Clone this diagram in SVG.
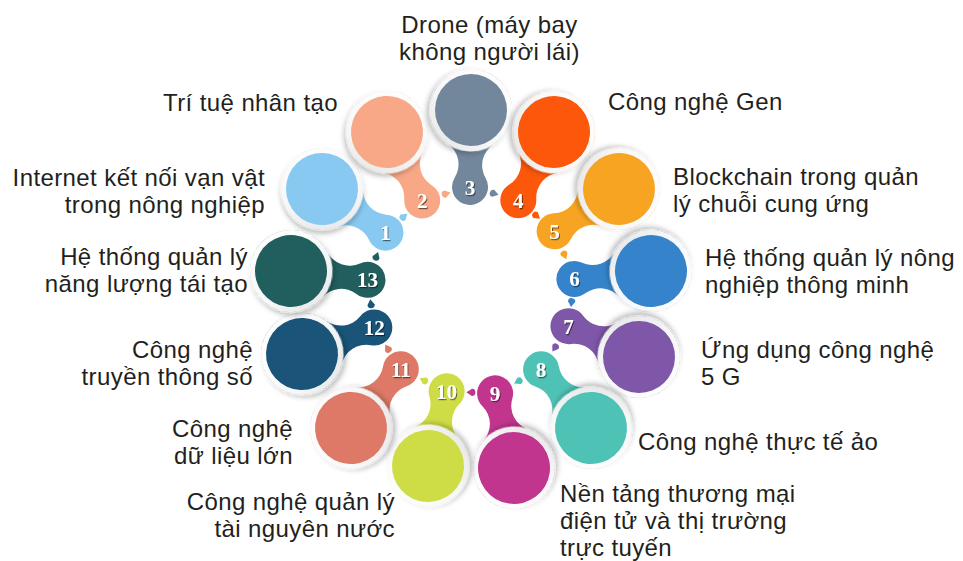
<svg xmlns="http://www.w3.org/2000/svg" xmlns:xlink="http://www.w3.org/1999/xlink" width="963" height="561" viewBox="0 0 963 561">
<style>
.lbl{font-family:"Liberation Sans","Arial",sans-serif;font-size:24px;letter-spacing:0.4px;fill:#231f20}
.e{text-anchor:end}
.m{text-anchor:middle}
.num{font-family:"Liberation Serif","DejaVu Serif",serif;font-weight:bold;font-size:21px;fill:#ffffff;text-anchor:middle;filter:url(#tsh)}
.ring{fill:url(#ringGrad);filter:url(#rsh)}
</style>
<defs>
<linearGradient id="ringGrad" x1="0" y1="0" x2="1" y2="1">
<stop offset="0" stop-color="#ffffff"/>
<stop offset="0.6" stop-color="#f7f7f7"/>
<stop offset="1" stop-color="#e2e2e2"/>
</linearGradient>
<filter id="rsh" x="-30%" y="-30%" width="160%" height="160%">
<feDropShadow dx="2" dy="3" stdDeviation="2.5" flood-color="#000" flood-opacity="0.25"/>
</filter>
<filter id="tsh" x="-30%" y="-30%" width="160%" height="160%">
<feDropShadow dx="1" dy="1.2" stdDeviation="0.6" flood-color="#000" flood-opacity="0.55"/>
</filter>
<path id="blob" d="M34.03,-22.87 A25,25 0 0 0 67.70,-15.41 A18,18 0 1 1 67.70,15.41 A25,25 0 0 0 34.03,22.87 A41,41 0 1 1 34.03,-22.87 Z"/>
<g id="unit">
<use xlink:href="#blob"/>
<circle r="41.5" class="ring"/>
<circle r="36"/>
</g>
<path id="arr" d="M4.5,0 L-1,-3.6 Q-4.5,-3.6 -4.5,0 Q-4.5,3.6 -1,3.6 Z"/>
</defs>

<g id="connectors">
<use xlink:href="#arr" fill="#88c9f1" transform="translate(403.9,216.6) rotate(-41.2)"/>
<use xlink:href="#arr" fill="#f8a886" transform="translate(446.2,193.8) rotate(-15.7)"/>
<use xlink:href="#arr" fill="#72879c" transform="translate(494.2,193.6) rotate(15.3)"/>
<use xlink:href="#arr" fill="#fc570a" transform="translate(536.5,215.8) rotate(40.6)"/>
<use xlink:href="#arr" fill="#f8a423" transform="translate(564.5,255.1) rotate(67.4)"/>
<use xlink:href="#arr" fill="#3584cb" transform="translate(571.5,302.6) rotate(97.1)"/>
<use xlink:href="#arr" fill="#7e57a9" transform="translate(554.8,347.8) rotate(122.4)"/>
<use xlink:href="#arr" fill="#4ec3b5" transform="translate(518.1,381.4) rotate(152.3)"/>
<use xlink:href="#arr" fill="#c2358f" transform="translate(470.9,392.4) rotate(182.5)"/>
<use xlink:href="#arr" fill="#cedc45" transform="translate(423.7,380.3) rotate(205.8)"/>
<use xlink:href="#arr" fill="#dd7966" transform="translate(387.6,348.4) rotate(237.6)"/>
<use xlink:href="#arr" fill="#1a5479" transform="translate(370.9,303.7) rotate(261.9)"/>
<use xlink:href="#arr" fill="#215e5e" transform="translate(376.5,256.3) rotate(290.8)"/>
</g>

<g id="node1">
<use xlink:href="#unit" fill="#88c9f1" transform="translate(322,189) rotate(34.5)"/>
<text class="num" x="385.5" y="240">1</text>
<text class="lbl e" x="265" y="186">Internet kết nối vạn vật<tspan x="265" dy="27">trong nông nghiệp</tspan></text>
</g>
<g id="node2">
<use xlink:href="#unit" fill="#f8a886" transform="translate(387,132) rotate(62.8)"/>
<text class="num" x="422.2" y="208">2</text>
<text class="lbl e" x="338" y="111">Trí tuệ nhân tạo</text>
</g>
<g id="node3">
<use xlink:href="#unit" fill="#72879c" transform="translate(471,110) rotate(90.7)"/>
<text class="num" x="470.1" y="194.5">3</text>
<text class="lbl m" x="489.5" y="33">Drone (máy bay<tspan x="489.5" dy="27">không người lái)</tspan></text>
</g>
<g id="node4">
<use xlink:href="#unit" fill="#fc570a" transform="translate(554,132) rotate(117.6)"/>
<text class="num" x="518.3" y="207.5">4</text>
<text class="lbl" x="608" y="110">Công nghệ Gen</text>
</g>
<g id="node5">
<use xlink:href="#unit" fill="#f8a423" transform="translate(619,189) rotate(146.7)"/>
<text class="num" x="554.6" y="238.5">5</text>
<text class="lbl" x="673" y="185">Blockchain trong quản<tspan x="673" dy="27">lý chuỗi cung ứng</tspan></text>
</g>
<g id="node6">
<use xlink:href="#unit" fill="#3584cb" transform="translate(651,271) rotate(174.1)"/>
<text class="num" x="574.4" y="286">6</text>
<text class="lbl" x="705" y="266">Hệ thống quản lý nông<tspan x="705" dy="27">nghiệp thông minh</tspan></text>
</g>
<g id="node7">
<use xlink:href="#unit" fill="#7e57a9" transform="translate(639,357) rotate(203.6)"/>
<text class="num" x="568.5" y="333.5">7</text>
<text class="lbl" x="701" y="358">Ứng dụng công nghệ<tspan x="701" dy="27">5 G</tspan></text>
</g>
<g id="node8">
<use xlink:href="#unit" fill="#4ec3b5" transform="translate(591,428) rotate(229.6)"/>
<text class="num" x="541.1" y="376.5">8</text>
<text class="lbl" x="638" y="450">Công nghệ thực tế ảo</text>
</g>
<g id="node9">
<use xlink:href="#unit" fill="#c2358f" transform="translate(514,468) rotate(255.8)"/>
<text class="num" x="495.1" y="400.5">9</text>
<text class="lbl" x="560" y="502">Nền tảng thương mại<tspan x="560" dy="27">điện tử và thị trường</tspan><tspan x="560" dy="27">trực tuyến</tspan></text>
</g>
<g id="node10">
<use xlink:href="#unit" fill="#cedc45" transform="translate(428,466) rotate(284)"/>
<text class="num" x="446.6" y="398.5">10</text>
<text class="lbl e" x="395" y="510">Công nghệ quản lý<tspan x="395" dy="27">tài nguyên nước</tspan></text>
</g>
<g id="node11">
<use xlink:href="#unit" fill="#dd7966" transform="translate(351,428) rotate(310.3)"/>
<text class="num" x="400.8" y="376.5">11</text>
<text class="lbl e" x="293" y="437">Công nghệ<tspan x="293" dy="27">dữ liệu lớn</tspan></text>
</g>
<g id="node12">
<use xlink:href="#unit" fill="#1a5479" transform="translate(302,354) rotate(339.9)"/>
<text class="num" x="374.3" y="335">12</text>
<text class="lbl e" x="253" y="358">Công nghệ<tspan x="253" dy="27">truyền thông số</tspan></text>
</g>
<g id="node13">
<use xlink:href="#unit" fill="#215e5e" transform="translate(291,271) rotate(6.6)"/>
<text class="num" x="367.5" y="287">13</text>
<text class="lbl e" x="248" y="265">Hệ thống quản lý<tspan x="248" dy="27">năng lượng tái tạo</tspan></text>
</g>
</svg>
